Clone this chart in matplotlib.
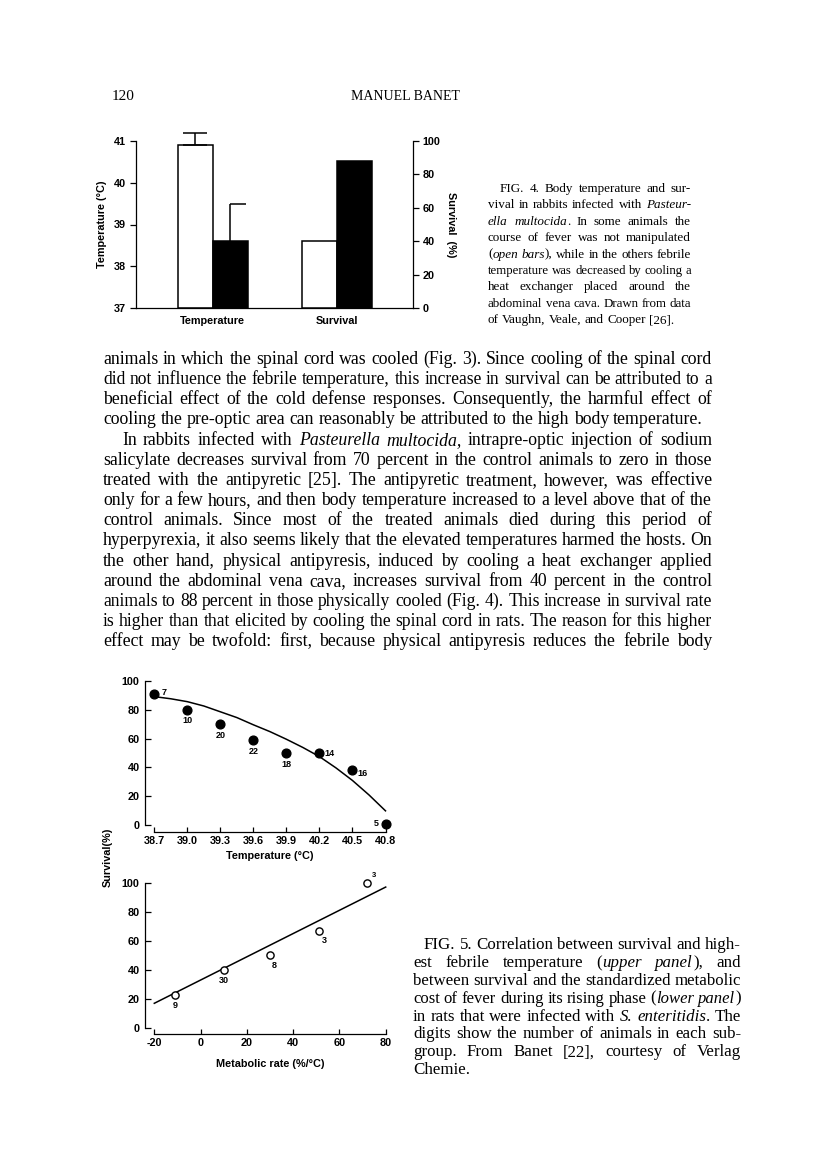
import numpy as np
import matplotlib
matplotlib.use("Agg")
import matplotlib.pyplot as plt

# ---------------- data ----------------
fig4_groups = ["Temperature", "Survival"]
fig4_temp = [40.9, 38.6]        # open bar, cooled (black) bar, deg C
fig4_temp_err = [0.3, 0.9]
fig4_surv = [40, 88]            # open bar, cooled (black) bar, %

up_temp = [38.7, 39.0, 39.3, 39.6, 39.9, 40.2, 40.5, 40.8]
up_surv = [91, 80, 70, 59, 50, 50, 38, 1]
up_n = ["7", "10", "20", "22", "18", "14", "16", "5"]
up_fit_x = [38.7, 38.85, 39.0, 39.15, 39.3, 39.45, 39.6, 39.75, 39.9,
            40.05, 40.2, 40.35, 40.5, 40.65, 40.8]
up_fit_y = [89, 87.5, 85.5, 82.5, 78.5, 74.5, 69.5, 64.8, 59.5,
            53.8, 47.5, 39.7, 31, 21, 10]
up_xticks = ["38.7", "39.0", "39.3", "39.6", "39.9", "40.2", "40.5", "40.8"]

lo_rate = [-11, 10, 30, 51, 72]
lo_surv = [23, 40, 50, 67, 100]
lo_n = ["9", "30", "8", "3", "3"]
lo_fit_x = [-20, 80]
lo_fit_y = [17, 97]
lo_xticks = [-20, 0, 20, 40, 60, 80]
surv_ticks = [0, 20, 40, 60, 80, 100]

# label offsets for the digits (points)
up_off = [(7, 1), (0, -8), (0, -8), (0, -8), (0, -8), (7, 0), (7, -2), (-7, 0)]
lo_off = [(0, -8), (0, -8), (3, -7), (4, -7), (5, 5)]

# ---------------- page text ----------------
body = [
    ("animals in which the spinal cord was cooled (Fig. 3). Since cooling of the spinal cord", 0, True),
    ("did not influence the febrile temperature, this increase in survival can be attributed to a", 0, True),
    ("beneficial effect of the cold defense responses. Consequently, the harmful effect of", 0, True),
    ("cooling the pre-optic area can reasonably be attributed to the high body temperature.", 0, False),
    ("In rabbits infected with {Pasteurella multocida,} intrapre-optic injection of sodium", 19, True),
    ("salicylate decreases survival from 70 percent in the control animals to zero in those", 0, True),
    ("treated with the antipyretic [25]. The antipyretic treatment, however, was effective", 0, True),
    ("only for a few hours, and then body temperature increased to a level above that of the", 0, True),
    ("control animals. Since most of the treated animals died during this period of", 0, True),
    ("hyperpyrexia, it also seems likely that the elevated temperatures harmed the hosts. On", 0, True),
    ("the other hand, physical antipyresis, induced by cooling a heat exchanger applied", 0, True),
    ("around the abdominal vena cava, increases survival from 40 percent in the control", 0, True),
    ("animals to 88 percent in those physically cooled (Fig. 4). This increase in survival rate", 0, True),
    ("is higher than that elicited by cooling the spinal cord in rats. The reason for this higher", 0, True),
    ("effect may be twofold: first, because physical antipyresis reduces the febrile body", 0, True),
]

cap4 = [
    ("FIG. 4. Body temperature and sur-", 12, True),
    ("vival in rabbits infected with {Pasteur-}", 0, True),
    ("{ella multocida}. In some animals the", 0, True),
    ("course of fever was not manipulated", 0, True),
    ("({open bars}), while in the others febrile", 0, True),
    ("temperature was decreased by cooling a", 0, True),
    ("heat exchanger placed around the", 0, True),
    ("abdominal vena cava. Drawn from data", 0, True),
    ("of Vaughn, Veale, and Cooper [26].", 0, False),
]

cap5 = [
    ("FIG. 5. Correlation between survival and high-", 11, True),
    ("est febrile temperature ({upper panel}), and", 0, True),
    ("between survival and the standardized metabolic", 0, True),
    ("cost of fever during its rising phase ({lower panel})", 0, True),
    ("in rats that were infected with {S. enteritidis}. The", 0, True),
    ("digits show the number of animals in each sub-", 0, True),
    ("group. From Banet [22], courtesy of Verlag", 0, True),
    ("Chemie.", 0, False),
]

W, H = 816, 1160
plt.rcParams["axes.unicode_minus"] = False
plt.rcParams["font.family"] = ["Liberation Sans", "DejaVu Sans"]
plt.rcParams["font.weight"] = "bold"
plt.rcParams["font.size"] = 7.8
plt.rcParams["axes.labelweight"] = "bold"
fig = plt.figure(figsize=(W / 100, H / 100), dpi=100)
fig.patch.set_facecolor("white")
renderer = fig.canvas.get_renderer()
SERIF = ["Liberation Serif", "DejaVu Serif"]


def fx(x):
    return x / W


def fy(y):
    return 1 - y / H


def parse(line):
    words, ital = [], False
    for w in line.split(" "):
        pieces, buf = [], ""
        for ch in w:
            if ch in "{}":
                if buf:
                    pieces.append((buf, ital))
                buf = ""
                ital = ch == "{"
            else:
                buf += ch
        if buf:
            pieces.append((buf, ital))
        words.append(pieces)
    return words


def serif_text(x, y, s, size, italic=False, **kw):
    return fig.text(x, y, s, fontsize=size, family=SERIF, fontweight="normal",
                    style="italic" if italic else "normal", **kw)


def word_width(pieces, size):
    tot = 0
    for txt, it in pieces:
        t = serif_text(0, 0, txt, size, it)
        tot += t.get_window_extent(renderer).width
        t.remove()
    return tot


def text_block(lines, x0, x1, y0, dy, size, base_off):
    # font size per line: fit each line with ~0.25 em spaces,
    # never larger than a common size for the block
    fits = []
    for s, ind, just in lines:
        words = parse(s)
        nat = sum(word_width(w, size) for w in words)
        nat += (len(words) - 1) * 0.25 * size * 100 / 72
        fits.append(size * (x1 - x0 - ind) / nat)
    just_fits = [f for f, (_, _, j) in zip(fits, lines) if j]
    base = float(np.percentile(just_fits, 25))
    for i, (s, ind, just) in enumerate(lines):
        sz = min(base, fits[i])
        words = parse(s)
        widths = [word_width(w, sz) for w in words]
        if just and len(words) > 1:
            gap = (x1 - x0 - ind - sum(widths)) / (len(words) - 1)
        else:
            gap = 0.25 * sz * 100 / 72
        x = x0 + ind
        yb = y0 + i * dy + base_off
        for w, wd in zip(words, widths):
            xx = x
            for txt, it in w:
                t = serif_text(fx(xx), fy(yb), txt, sz, it, va="baseline")
                xx += t.get_window_extent(renderer).width
            x += wd + gap


# header
serif_text(fx(112), fy(100), "120", 11, va="baseline")
serif_text(fx(405), fy(100), "MANUEL BANET", 10, va="baseline", ha="center")

text_block(body, 103, 712, 359, 20.15, 12, 5)
text_block(cap4, 488, 691, 188, 16.4, 10, 4)
text_block(cap5, 413, 741, 945, 17.9, 10.5, 4)

# ---------------- Fig. 4 ----------------
ax = fig.add_axes([fx(136), fy(308), (413 - 136) / W, (308 - 141) / H])
ax2 = ax.twinx()
for a in (ax, ax2):
    for sp in a.spines.values():
        sp.set_linewidth(0.9)
    a.spines["top"].set_visible(False)
ax.spines["right"].set_visible(False)
ax2.spines["left"].set_visible(False)
ax2.spines["bottom"].set_visible(False)

xg = np.arange(len(fig4_groups))
bw = 35 / 124.3
ax.bar(xg[0] - bw / 2, fig4_temp[0] - 37, bw, bottom=37, facecolor="white",
       edgecolor="black", linewidth=1.1)
ax.bar(xg[0] + bw / 2, fig4_temp[1] - 37, bw, bottom=37, facecolor="black",
       edgecolor="black", linewidth=1.1)
eb = ax.errorbar(xg[0] - bw / 2, fig4_temp[0], yerr=[[0], [fig4_temp_err[0]]],
                 fmt="none", ecolor="black", elinewidth=1.1, capsize=8.3,
                 capthick=1.1)
for art in eb.lines[1] + eb.lines[2]:
    art.set_clip_on(False)
ax.vlines(xg[0] + bw / 2, fig4_temp[1], fig4_temp[1] + fig4_temp_err[1],
          color="black", linewidth=1.1)
ax.hlines(fig4_temp[1] + fig4_temp_err[1], xg[0] + bw / 2, xg[0] + bw * 0.95,
          color="black", linewidth=1.1)
ax2.bar(xg[1] - bw / 2, fig4_surv[0], bw, facecolor="white",
        edgecolor="black", linewidth=1.1)
ax2.bar(xg[1] + bw / 2, fig4_surv[1], bw, facecolor="black",
        edgecolor="black", linewidth=1.1)
ax.set_xlim(-0.617, 1.611)
ax.set_ylim(37, 41)
ax2.set_ylim(0, 100)
ax.set_yticks([37, 38, 39, 40, 41])
ax2.set_yticks(surv_ticks)
ax.set_xticks(xg)
ax.set_xticklabels(fig4_groups)
ax.tick_params(axis="y", direction="out", length=4, width=0.9, pad=3)
ax.tick_params(axis="x", length=0, pad=6)
ax2.tick_params(axis="y", direction="out", length=4, width=0.9, pad=3)
ax.set_ylabel("Temperature (\u00b0C)", labelpad=5)
ax2.set_ylabel("Survival  (%)", rotation=270, labelpad=11)

# ---------------- Fig. 5 ----------------
au = fig.add_axes([fx(154.3), fy(825.3), (385.5 - 154.3) / W, (825.3 - 680.7) / H])
al = fig.add_axes([fx(154.3), fy(1028), (385.7 - 154.3) / W, (1028 - 882.7) / H])
for a, xoff in ((au, 5), (al, 4.3)):
    a.spines["top"].set_visible(False)
    a.spines["right"].set_visible(False)
    a.spines["left"].set_position(("outward", 6.5))
    a.spines["bottom"].set_position(("outward", xoff))
    for sp in ("left", "bottom"):
        a.spines[sp].set_linewidth(0.9)
    a.patch.set_alpha(0)

# upper panel: survival vs highest febrile temperature
au.plot(up_fit_x, up_fit_y, color="black", linewidth=1.1, clip_on=False)
au.plot(up_temp, up_surv, "o", color="black", markersize=6.3, clip_on=False)
for x, y, n, o in zip(up_temp, up_surv, up_n, up_off):
    au.annotate(n, (x, y), xytext=o, textcoords="offset points",
                ha="center", va="center", fontsize=6.5)
au.set_xlim(38.7, 40.8)
au.set_xticks(up_temp)
au.set_xticklabels(up_xticks)
au.set_xlabel("Temperature (\u00b0C)", labelpad=3)

# lower panel: survival vs metabolic rate
al.plot(lo_fit_x, lo_fit_y, color="black", linewidth=1.1, clip_on=False)
al.plot(lo_rate, lo_surv, "o", markerfacecolor="white", markeredgecolor="black",
        markeredgewidth=1.0, markersize=5.2, clip_on=False)
for i, (x, y, n, o) in enumerate(zip(lo_rate, lo_surv, lo_n, lo_off)):
    al.annotate(n, (x, y), xytext=o, textcoords="offset points", ha="center",
                va="center", fontsize=5.5 if i == len(lo_n) - 1 else 6.5)
al.set_xlim(-20, 80)
al.set_xticks(lo_xticks)
al.set_xticklabels([str(v) for v in lo_xticks])
al.set_xlabel("Metabolic rate (%/\u00b0C)", labelpad=8)

for a in (au, al):
    a.set_ylim(0, 100)
    a.set_yticks(surv_ticks)
    a.spines["left"].set_bounds(0, 100)
    a.spines["bottom"].set_bounds(*a.get_xlim())
    a.tick_params(axis="y", direction="in", length=4, width=0.9, pad=4)
    a.tick_params(axis="x", direction="in", length=3.5, width=0.9, pad=3)

fig.text(fx(108), fy(857), "Survival(%)", rotation=90, ha="center", va="center")

fig.savefig("out.png", dpi=100, facecolor="white")
